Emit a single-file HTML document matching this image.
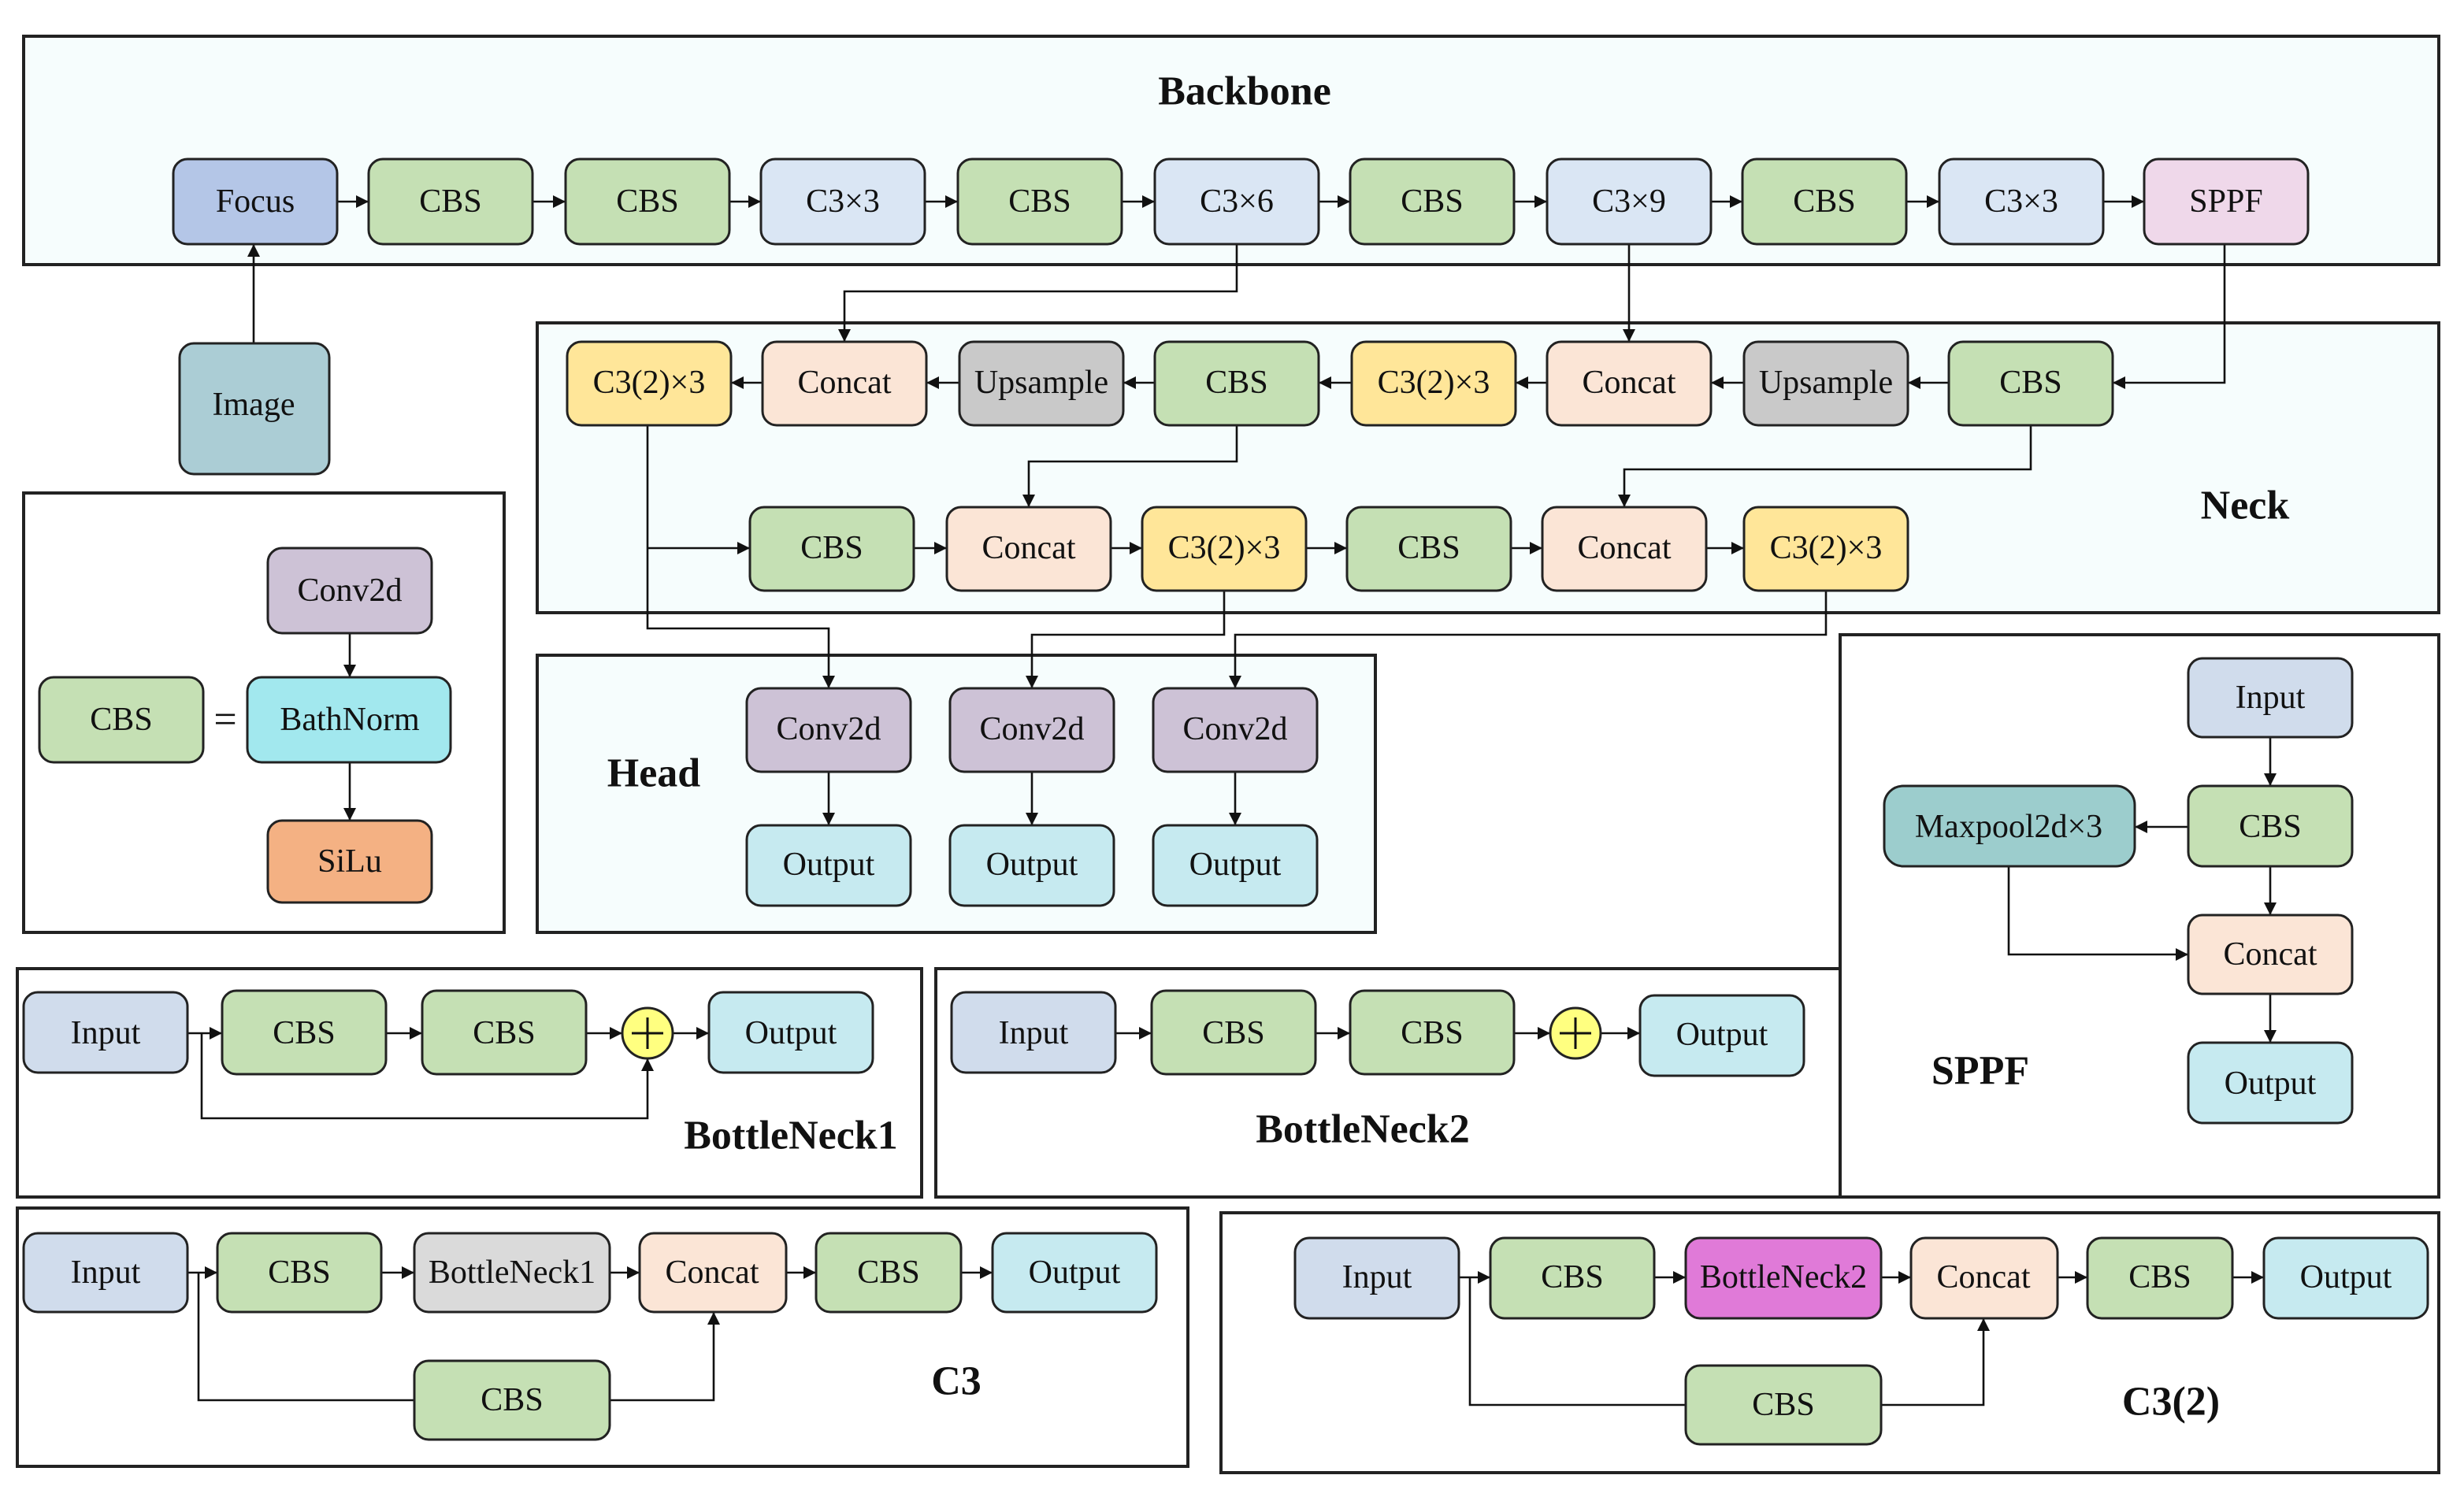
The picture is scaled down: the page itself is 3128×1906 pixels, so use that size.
<!DOCTYPE html>
<html><head><meta charset="utf-8"><style>
html,body{margin:0;padding:0;background:#fff}
svg{display:block}
text{font-family:"Liberation Serif",serif;font-size:21px;text-anchor:middle;dominant-baseline:central;fill:#111}
.t{font-weight:bold;font-size:26px}
.n{stroke:#222;stroke-width:1.5}
.f path{fill:none;stroke:#111;stroke-width:1.3}
.o{stroke:#222;stroke-width:2}
</style></head><body>
<svg width="3128" height="1906" viewBox="0 0 1564 953" xmlns="http://www.w3.org/2000/svg">
<defs><marker id="a" markerUnits="userSpaceOnUse" markerWidth="9" markerHeight="8" refX="8" refY="4" orient="auto"><path d="M0,0 L8,4 L0,8 z" fill="#111"/></marker></defs>

<rect class="o" x="15" y="23" width="1533" height="145" fill="#f6fdfd"/>
<rect class="o" x="341" y="205" width="1207" height="184" fill="#f6fdfd"/>
<rect class="o" x="341" y="416" width="532" height="176" fill="#f6fdfd"/>
<rect class="o" x="15" y="313" width="305" height="279" fill="#fff"/>
<rect class="o" x="1168" y="403" width="380" height="357" fill="#fff"/>
<rect class="o" x="11" y="615" width="574" height="145" fill="#fff"/>
<rect class="o" x="594" y="615" width="574" height="145" fill="#fff"/>
<rect class="o" x="11" y="767" width="743" height="164" fill="#fff"/>
<rect class="o" x="775" y="770" width="773" height="165" fill="#fff"/>

<text class="t" x="790" y="58">Backbone</text>
<text class="t" x="1425" y="321">Neck</text>
<text class="t" x="415" y="491">Head</text>
<text class="t" x="1257" y="680">SPPF</text>
<text class="t" x="502" y="721">BottleNeck1</text>
<text class="t" x="865" y="717">BottleNeck2</text>
<text class="t" x="607" y="877">C3</text>
<text class="t" x="1378" y="890">C3(2)</text>

<g class="f">
<path d="M214,128H234" marker-end="url(#a)"/><path d="M338,128H359" marker-end="url(#a)"/><path d="M463,128H483" marker-end="url(#a)"/><path d="M587,128H608" marker-end="url(#a)"/><path d="M712,128H733" marker-end="url(#a)"/><path d="M837,128H857" marker-end="url(#a)"/><path d="M961,128H982" marker-end="url(#a)"/><path d="M1086,128H1106" marker-end="url(#a)"/><path d="M1210,128H1231" marker-end="url(#a)"/><path d="M1335,128H1361" marker-end="url(#a)"/>
<path d="M161,218V155" marker-end="url(#a)"/>
<path d="M1412,155V243H1341" marker-end="url(#a)"/>
<path d="M785,155V185H536V217" marker-end="url(#a)"/>
<path d="M1034,155V217" marker-end="url(#a)"/>
<path d="M1237,243H1211" marker-end="url(#a)"/>
<path d="M1107,243H1086" marker-end="url(#a)"/>
<path d="M982,243H962" marker-end="url(#a)"/>
<path d="M858,243H837" marker-end="url(#a)"/>
<path d="M733,243H713" marker-end="url(#a)"/>
<path d="M609,243H588" marker-end="url(#a)"/>
<path d="M484,243H464" marker-end="url(#a)"/>
<path d="M785,270V293H653V322" marker-end="url(#a)"/>
<path d="M1289,270V298H1031V322" marker-end="url(#a)"/>
<path d="M411,348H476" marker-end="url(#a)"/>
<path d="M411,270V399H526V437" marker-end="url(#a)"/>
<path d="M580,348H601" marker-end="url(#a)"/><path d="M705,348H725" marker-end="url(#a)"/><path d="M829,348H855" marker-end="url(#a)"/><path d="M959,348H979" marker-end="url(#a)"/><path d="M1083,348H1107" marker-end="url(#a)"/>
<path d="M777,375V403H655V437" marker-end="url(#a)"/>
<path d="M1159,375V403H784V437" marker-end="url(#a)"/>
<path d="M526,490V524" marker-end="url(#a)"/><path d="M655,490V524" marker-end="url(#a)"/><path d="M784,490V524" marker-end="url(#a)"/>
<path d="M222,402V430" marker-end="url(#a)"/><path d="M222,484V521" marker-end="url(#a)"/>
<path d="M1441,468V499" marker-end="url(#a)"/><path d="M1441,550V581" marker-end="url(#a)"/><path d="M1441,631V662" marker-end="url(#a)"/>
<path d="M1389,525H1355" marker-end="url(#a)"/>
<path d="M1275,550V606H1389" marker-end="url(#a)"/>
<path d="M119,656H141" marker-end="url(#a)"/><path d="M245,656H268" marker-end="url(#a)"/><path d="M372,656H395" marker-end="url(#a)"/><path d="M427,656H450" marker-end="url(#a)"/>
<path d="M128,656V710H411V672" marker-end="url(#a)"/>
<path d="M708,656H731" marker-end="url(#a)"/><path d="M835,656H857" marker-end="url(#a)"/><path d="M961,656H984" marker-end="url(#a)"/><path d="M1016,656H1041" marker-end="url(#a)"/>
<path d="M119,808H138" marker-end="url(#a)"/><path d="M242,808H263" marker-end="url(#a)"/><path d="M387,808H406" marker-end="url(#a)"/><path d="M499,808H518" marker-end="url(#a)"/><path d="M610,808H630" marker-end="url(#a)"/>
<path d="M126,808V889H263"/><path d="M387,889H453V833" marker-end="url(#a)"/>
<path d="M926,811H946" marker-end="url(#a)"/><path d="M1050,811H1070" marker-end="url(#a)"/><path d="M1194,811H1213" marker-end="url(#a)"/><path d="M1306,811H1325" marker-end="url(#a)"/><path d="M1417,811H1437" marker-end="url(#a)"/>
<path d="M933,811V892H1070"/><path d="M1194,892H1259V837" marker-end="url(#a)"/>
</g>

<g class="n">
<rect x="110" y="101" width="104" height="54" rx="9" fill="#b4c6e7"/>
<rect x="234" y="101" width="104" height="54" rx="9" fill="#c5e0b4"/>
<rect x="359" y="101" width="104" height="54" rx="9" fill="#c5e0b4"/>
<rect x="483" y="101" width="104" height="54" rx="9" fill="#dae6f4"/>
<rect x="608" y="101" width="104" height="54" rx="9" fill="#c5e0b4"/>
<rect x="733" y="101" width="104" height="54" rx="9" fill="#dae6f4"/>
<rect x="857" y="101" width="104" height="54" rx="9" fill="#c5e0b4"/>
<rect x="982" y="101" width="104" height="54" rx="9" fill="#dae6f4"/>
<rect x="1106" y="101" width="104" height="54" rx="9" fill="#c5e0b4"/>
<rect x="1231" y="101" width="104" height="54" rx="9" fill="#dae6f4"/>
<rect x="1361" y="101" width="104" height="54" rx="9" fill="#efd8ea"/>
<rect x="114" y="218" width="95" height="83" rx="9" fill="#abcdd5"/>
</g>
<text x="162" y="128">Focus</text><text x="286" y="128">CBS</text><text x="411" y="128">CBS</text><text x="535" y="128">C3×3</text><text x="660" y="128">CBS</text><text x="785" y="128">C3×6</text><text x="909" y="128">CBS</text><text x="1034" y="128">C3×9</text><text x="1158" y="128">CBS</text><text x="1283" y="128">C3×3</text><text x="1413" y="128">SPPF</text>
<text x="161" y="257">Image</text>

<g class="n">
<rect x="360" y="217" width="104" height="53" rx="9" fill="#ffe699"/>
<rect x="484" y="217" width="104" height="53" rx="9" fill="#fbe5d6"/>
<rect x="609" y="217" width="104" height="53" rx="9" fill="#c9c9c9"/>
<rect x="733" y="217" width="104" height="53" rx="9" fill="#c5e0b4"/>
<rect x="858" y="217" width="104" height="53" rx="9" fill="#ffe699"/>
<rect x="982" y="217" width="104" height="53" rx="9" fill="#fbe5d6"/>
<rect x="1107" y="217" width="104" height="53" rx="9" fill="#c9c9c9"/>
<rect x="1237" y="217" width="104" height="53" rx="9" fill="#c5e0b4"/>
<rect x="476" y="322" width="104" height="53" rx="9" fill="#c5e0b4"/>
<rect x="601" y="322" width="104" height="53" rx="9" fill="#fbe5d6"/>
<rect x="725" y="322" width="104" height="53" rx="9" fill="#ffe699"/>
<rect x="855" y="322" width="104" height="53" rx="9" fill="#c5e0b4"/>
<rect x="979" y="322" width="104" height="53" rx="9" fill="#fbe5d6"/>
<rect x="1107" y="322" width="104" height="53" rx="9" fill="#ffe699"/>
</g>
<text x="412" y="243">C3(2)×3</text><text x="536" y="243">Concat</text><text x="661" y="243">Upsample</text><text x="785" y="243">CBS</text><text x="910" y="243">C3(2)×3</text><text x="1034" y="243">Concat</text><text x="1159" y="243">Upsample</text><text x="1289" y="243">CBS</text>
<text x="528" y="348">CBS</text><text x="653" y="348">Concat</text><text x="777" y="348">C3(2)×3</text><text x="907" y="348">CBS</text><text x="1031" y="348">Concat</text><text x="1159" y="348">C3(2)×3</text>

<g class="n">
<rect x="474" y="437" width="104" height="53" rx="9" fill="#cdc2d6"/>
<rect x="603" y="437" width="104" height="53" rx="9" fill="#cdc2d6"/>
<rect x="732" y="437" width="104" height="53" rx="9" fill="#cdc2d6"/>
<rect x="474" y="524" width="104" height="51" rx="9" fill="#c6eaf0"/>
<rect x="603" y="524" width="104" height="51" rx="9" fill="#c6eaf0"/>
<rect x="732" y="524" width="104" height="51" rx="9" fill="#c6eaf0"/>
</g>
<text x="526" y="463">Conv2d</text><text x="655" y="463">Conv2d</text><text x="784" y="463">Conv2d</text>
<text x="526" y="549">Output</text><text x="655" y="549">Output</text><text x="784" y="549">Output</text>

<g class="n">
<rect x="170" y="348" width="104" height="54" rx="9" fill="#cdc2d6"/>
<rect x="157" y="430" width="129" height="54" rx="9" fill="#a2e8ee"/>
<rect x="170" y="521" width="104" height="52" rx="9" fill="#f4b183"/>
<rect x="25" y="430" width="104" height="54" rx="9" fill="#c5e0b4"/>
</g>
<text x="222" y="375">Conv2d</text><text x="222" y="457">BathNorm</text><text x="222" y="547">SiLu</text><text x="77" y="457">CBS</text><text x="143" y="457" style="font-size:26px">=</text>

<g class="n">
<rect x="1389" y="418" width="104" height="50" rx="9" fill="#d0dcec"/>
<rect x="1389" y="499" width="104" height="51" rx="9" fill="#c5e0b4"/>
<rect x="1196" y="499" width="159" height="51" rx="12" fill="#9ccdcd"/>
<rect x="1389" y="581" width="104" height="50" rx="9" fill="#fbe5d6"/>
<rect x="1389" y="662" width="104" height="51" rx="9" fill="#c6eaf0"/>
</g>
<text x="1441" y="443">Input</text><text x="1441" y="525">CBS</text><text x="1275" y="525">Maxpool2d×3</text><text x="1441" y="606">Concat</text><text x="1441" y="688">Output</text>

<g class="n">
<rect x="15" y="630" width="104" height="51" rx="9" fill="#d0dcec"/>
<rect x="141" y="629" width="104" height="53" rx="9" fill="#c5e0b4"/>
<rect x="268" y="629" width="104" height="53" rx="9" fill="#c5e0b4"/>
<rect x="450" y="630" width="104" height="51" rx="9" fill="#c6eaf0"/>
<rect x="604" y="630" width="104" height="51" rx="9" fill="#d0dcec"/>
<rect x="731" y="629" width="104" height="53" rx="9" fill="#c5e0b4"/>
<rect x="857" y="629" width="104" height="53" rx="9" fill="#c5e0b4"/>
<rect x="1041" y="632" width="104" height="51" rx="9" fill="#c6eaf0"/>
<circle cx="411" cy="656" r="16" fill="#ffff80"/>
<circle cx="1000" cy="656" r="16" fill="#ffff80"/>
</g>
<path d="M401,656H421M411,646V666M990,656H1010M1000,646V666" stroke="#111" stroke-width="1.5"/>
<text x="67" y="656">Input</text><text x="193" y="656">CBS</text><text x="320" y="656">CBS</text><text x="502" y="656">Output</text>
<text x="656" y="656">Input</text><text x="783" y="656">CBS</text><text x="909" y="656">CBS</text><text x="1093" y="657">Output</text>

<g class="n">
<rect x="15" y="783" width="104" height="50" rx="9" fill="#d0dcec"/>
<rect x="138" y="783" width="104" height="50" rx="9" fill="#c5e0b4"/>
<rect x="263" y="783" width="124" height="50" rx="9" fill="#dadada"/>
<rect x="406" y="783" width="93" height="50" rx="9" fill="#fbe5d6"/>
<rect x="518" y="783" width="92" height="50" rx="9" fill="#c5e0b4"/>
<rect x="630" y="783" width="104" height="50" rx="9" fill="#c6eaf0"/>
<rect x="263" y="864" width="124" height="50" rx="9" fill="#c5e0b4"/>
</g>
<text x="67" y="808">Input</text><text x="190" y="808">CBS</text><text x="325" y="808">BottleNeck1</text><text x="452" y="808">Concat</text><text x="564" y="808">CBS</text><text x="682" y="808">Output</text><text x="325" y="889">CBS</text>

<g class="n">
<rect x="822" y="786" width="104" height="51" rx="9" fill="#d0dcec"/>
<rect x="946" y="786" width="104" height="51" rx="9" fill="#c5e0b4"/>
<rect x="1070" y="786" width="124" height="51" rx="9" fill="#e07ad8"/>
<rect x="1213" y="786" width="93" height="51" rx="9" fill="#fbe5d6"/>
<rect x="1325" y="786" width="92" height="51" rx="9" fill="#c5e0b4"/>
<rect x="1437" y="786" width="104" height="51" rx="9" fill="#c6eaf0"/>
<rect x="1070" y="867" width="124" height="50" rx="9" fill="#c5e0b4"/>
</g>
<text x="874" y="811">Input</text><text x="998" y="811">CBS</text><text x="1132" y="811">BottleNeck2</text><text x="1259" y="811">Concat</text><text x="1371" y="811">CBS</text><text x="1489" y="811">Output</text><text x="1132" y="892">CBS</text>
</svg>
</body></html>
